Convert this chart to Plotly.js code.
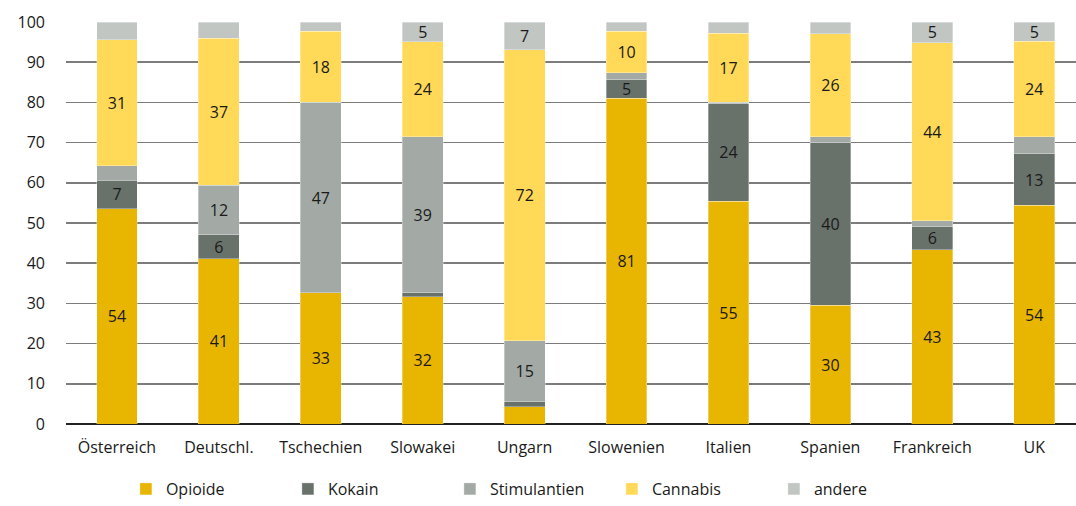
<!DOCTYPE html>
<html>
<head>
<meta charset="utf-8">
<script src="https://cdn.plot.ly/plotly-3.0.1.min.js"></script>
<style>
  html, body { margin: 0; padding: 0; background: #ffffff; }
  #chart { width: 1076px; height: 506px; }
</style>
</head>
<body>
<div id="chart"></div>
<script>
// Anteil der Hauptdroge bei Behandlungsbeginn (in %), je Land
const countries = ['Österreich', 'Deutschl.', 'Tschechien', 'Slowakei', 'Ungarn',
                   'Slowenien', 'Italien', 'Spanien', 'Frankreich', 'UK'];

const opioide      = [53.6, 41.1, 32.6, 31.7, 4.3, 81.0, 55.4, 29.6, 43.3, 54.4];
const kokain       = [7.0, 6.0, 0.0, 1.0, 1.2, 4.6, 24.3, 40.4, 5.8, 12.8];
const stimulantien = [3.7, 12.3, 47.4, 38.7, 15.2, 1.8, 0.3, 1.4, 1.5, 4.3];
const cannabis     = [31.3, 36.6, 17.7, 23.7, 72.4, 10.3, 17.2, 25.7, 44.3, 23.7];
const andere       = [4.4, 4.0, 2.3, 4.9, 6.9, 2.3, 2.8, 2.9, 5.1, 4.8];

// which segments carry a value label
const showOpioide      = [1, 1, 1, 1, 0, 1, 1, 1, 1, 1];
const showKokain       = [1, 1, 0, 0, 0, 1, 1, 1, 1, 1];
const showStimulantien = [0, 1, 1, 1, 1, 0, 0, 0, 0, 0];
const showCannabis     = [1, 1, 1, 1, 1, 1, 1, 1, 1, 1];
const showAndere       = [0, 0, 0, 1, 1, 0, 0, 0, 1, 1];

const yTicks = [0, 10, 20, 30, 40, 50, 60, 70, 80, 90, 100];

const FONT = '"Open Sans", "Noto Sans", sans-serif';
const FS = 16;

function series(name, values, shown, color) {
  return {
    type: 'bar',
    name: name,
    x: countries,
    y: values,
    marker: { color: color, line: { width: 0.6, color: 'rgba(255,255,255,0.55)' } },
    texttemplate: shown.map(s => s ? '%{y:.0f}' : ''),
    textposition: 'inside',
    insidetextanchor: 'middle',
    constraintext: 'none',
    textangle: 0,
    insidetextfont: { family: FONT, size: FS, color: '#1a1a1a' },
    hoverinfo: 'x+y+name'
  };
}

const data = [
  series('Opioide', opioide, showOpioide, '#E8B500'),
  series('Kokain', kokain, showKokain, '#68716A'),
  series('Stimulantien', stimulantien, showStimulantien, '#A3AAA5'),
  series('Cannabis', cannabis, showCannabis, '#FFD957'),
  series('andere', andere, showAndere, '#C1C6C3')
];

const layout = {
  width: 1076,
  height: 506,
  margin: { l: 66, r: 0, t: 22, b: 82, autoexpand: false },
  paper_bgcolor: '#ffffff',
  plot_bgcolor: '#ffffff',
  barmode: 'stack',
  bargap: 0.6,
  font: { family: FONT, size: FS, color: '#1a1a1a' },
  xaxis: {
    type: 'category',
    range: [-0.5, 9.41],
    showgrid: false,
    showline: false,
    zeroline: false,
    ticks: '',
    ticklabelstandoff: 12,
    tickfont: { family: FONT, size: FS, color: '#1a1a1a' },
    fixedrange: true
  },
  yaxis: {
    range: [0, 100],
    tickvals: yTicks,
    ticktext: yTicks.map(String),
    showgrid: true,
    gridcolor: '#7c7c7c',
    gridwidth: 1.6,
    zeroline: true,
    zerolinecolor: '#222222',
    zerolinewidth: 1.6,
    showline: false,
    ticks: '',
    ticklabelstandoff: 20,
    tickfont: { family: FONT, size: FS, color: '#1a1a1a' },
    fixedrange: true
  },
  showlegend: true,
  legend: {
    orientation: 'h',
    xref: 'container',
    yref: 'container',
    x: 0.117,
    xanchor: 'left',
    y: -0.012,
    yanchor: 'bottom',
    entrywidth: 117,
    entrywidthmode: 'pixels',
    traceorder: 'normal',
    font: { family: FONT, size: FS, color: '#1a1a1a' },
    itemwidth: 30,
    bgcolor: 'rgba(0,0,0,0)'
  }
};

Plotly.newPlot('chart', data, layout, { displayModeBar: false, staticPlot: true });
</script>
</body>
</html>
